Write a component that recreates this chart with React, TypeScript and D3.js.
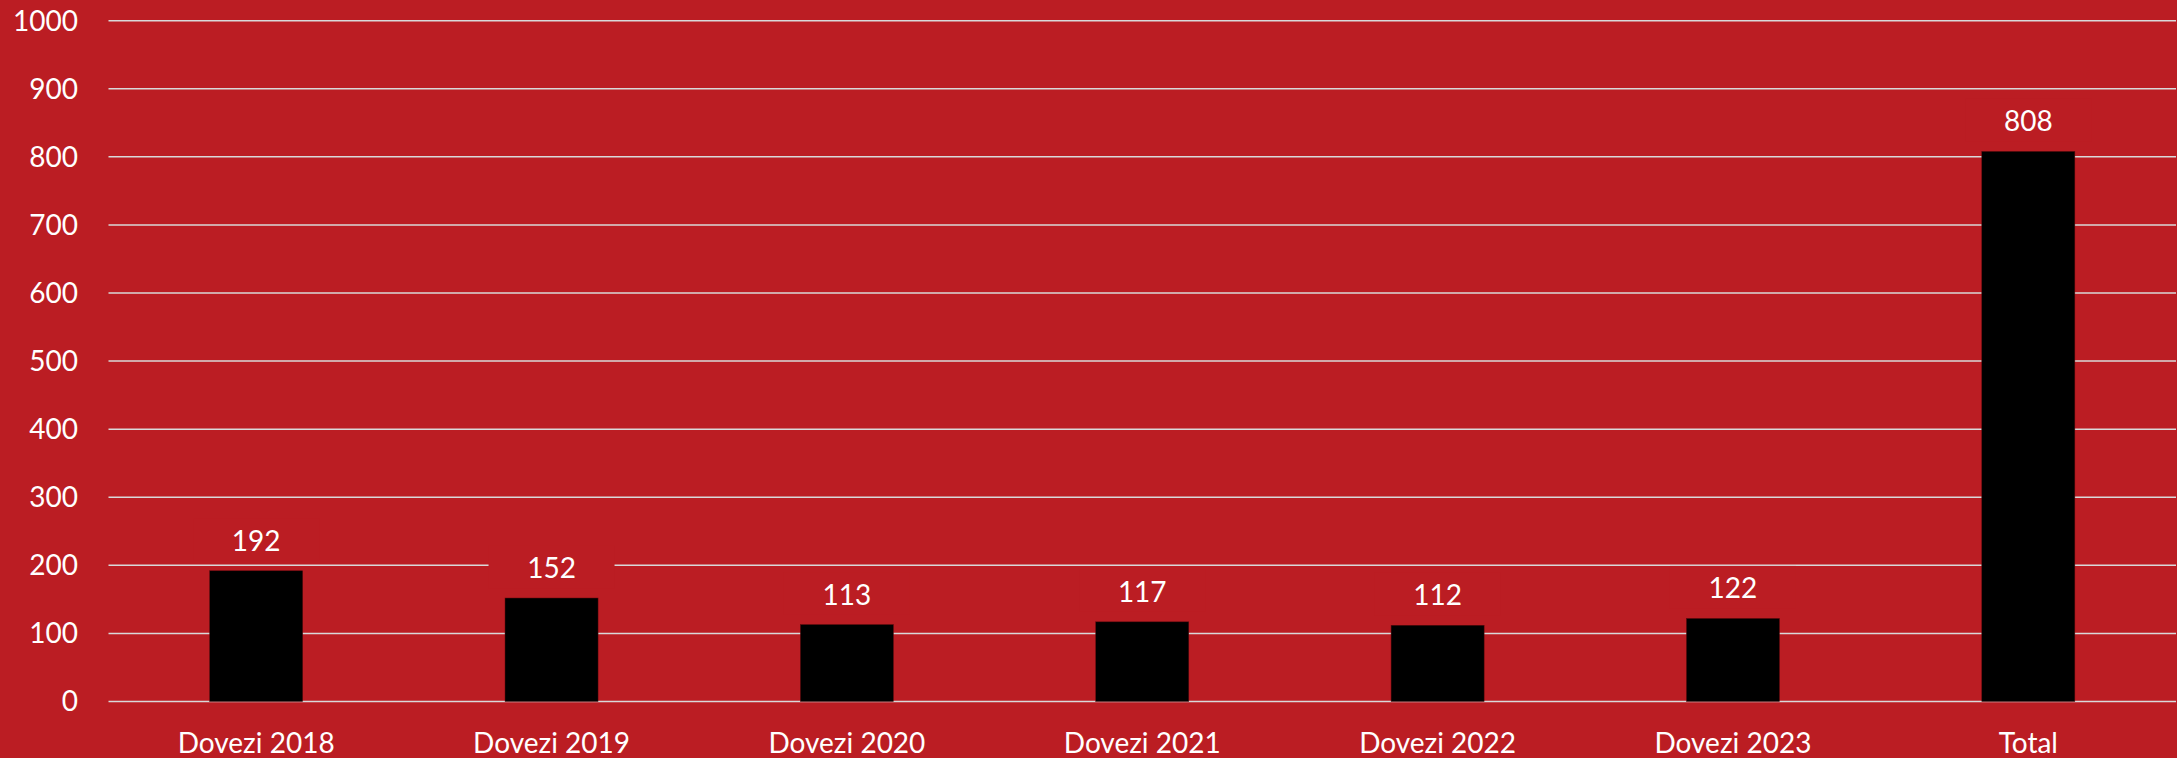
import React from "react";
import * as d3 from "d3";

const categories = ["Dovezi 2018", "Dovezi 2019", "Dovezi 2020", "Dovezi 2021", "Dovezi 2022", "Dovezi 2023", "Total"];
const values = [192, 152, 113, 117, 112, 122, 808];
const yTicks = [0, 100, 200, 300, 400, 500, 600, 700, 800, 900, 1000];

const W = 2177;
const H = 758;
const BG = "#BB1D23";
const GRID = "#D9D9D9";
const FONT = "Lato, 'Open Sans', sans-serif";

export default function App() {
  if (typeof document !== "undefined") document.body.style.margin = "0";
  const x = d3.scaleBand<string>().domain(categories).range([108.5, 2176]).padding(0);
  const y = d3.scaleLinear().domain([0, 1000]).range([701.5, 20.7]);
  const barW = x.bandwidth() * 0.315;
  const fs = 28;

  return (
    <svg width={W} height={H} style={{ display: "block", position: "absolute", left: 0, top: 0 }}>
      <rect x={0} y={0} width={W} height={H} fill={BG} />
      {yTicks.map((t) => (
        <g key={t}>
          <line x1={108.5} x2={2176} y1={y(t)} y2={y(t)} stroke={GRID} strokeWidth={1.5} />
          <text
            x={78}
            y={y(t)}
            dy="0.35em"
            textAnchor="end"
            fill="#fff"
            fontFamily={FONT}
            fontSize={fs}
          >
            {t}
          </text>
        </g>
      ))}
      {categories.map((c, i) => {
        const cx = (x(c) as number) + x.bandwidth() / 2;
        const top = y(values[i]);
        const base = top - 20;
        return (
          <g key={c}>
            <rect x={cx - 63} y={base - 19.5 - 13} width={126} height={19.5 + 13 + 10} fill={BG} />
            <rect x={cx - barW / 2} y={top} width={barW} height={y(0) - top} fill="#000" stroke="#5a0a0d" strokeWidth={0.5} />
            <text x={cx} y={base} textAnchor="middle" fill="#fff" fontFamily={FONT} fontSize={fs}>
              {values[i]}
            </text>
            <text x={cx} y={753} textAnchor="middle" fill="#fff" fontFamily={FONT} fontSize={fs}>
              {c}
            </text>
          </g>
        );
      })}
    </svg>
  );
}
